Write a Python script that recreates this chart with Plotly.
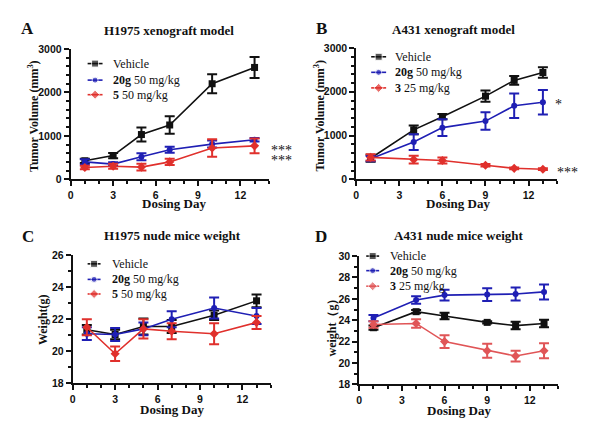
import plotly.graph_objects as go

# ---------------- data ----------------
days_A = [1, 3, 5, 7, 10, 13]
A_vehicle = [425, 545, 1030, 1250, 2200, 2575]
A_vehicle_err = [50, 60, 160, 200, 220, 240]
A_20g = [400, 350, 520, 680, 810, 910]
A_20g_err = [60, 40, 80, 70, 80, 40]
A_5 = [270, 300, 280, 400, 720, 770]
A_5_err = [40, 60, 80, 70, 200, 170]

days_B = [1, 4, 6, 9, 11, 13]
B_vehicle = [480, 1130, 1430, 1900, 2260, 2440]
B_vehicle_err = [80, 100, 60, 130, 100, 120]
B_20g = [470, 850, 1180, 1330, 1680, 1760]
B_20g_err = [60, 180, 190, 200, 280, 280]
B_3 = [500, 450, 430, 320, 250, 230]
B_3_err = [70, 90, 70, 30, 20, 20]

days_C = [1, 3, 5, 7, 10, 13]
C_vehicle = [21.35, 21.05, 21.55, 21.55, 22.25, 23.15]
C_vehicle_err = [0.3, 0.3, 0.5, 0.4, 0.3, 0.4]
C_20g = [21.1, 21.05, 21.4, 22.0, 22.7, 22.2]
C_20g_err = [0.4, 0.4, 0.4, 0.5, 0.65, 0.5]
C_5 = [21.5, 19.85, 21.4, 21.25, 21.1, 21.8]
C_5_err = [0.5, 0.45, 0.6, 0.5, 0.65, 0.4]

days_D = [1, 4, 6, 9, 11, 13]
D_vehicle = [23.3, 24.8, 24.4, 23.8, 23.5, 23.7]
D_vehicle_err = [0.2, 0.15, 0.3, 0.1, 0.35, 0.35]
D_20g = [24.2, 25.9, 26.35, 26.4, 26.45, 26.65]
D_20g_err = [0.3, 0.35, 0.5, 0.6, 0.6, 0.7]
D_3 = [23.6, 23.7, 22.0, 21.15, 20.65, 21.15]
D_3_err = [0.3, 0.4, 0.6, 0.65, 0.5, 0.7]

titles = ["H1975 xenograft model", "A431 xenograft model",
          "H1975 nude mice weight", "A431 nude mice weight"]
panel_letters = ["A", "B", "C", "D"]
y_titles = ["Tumor Volume (mm<sup>3</sup>)", "Tumor Volume (mm<sup>3</sup>)",
            "Weight(g)", "weight（g）"]
x_title = "Dosing Day"
x_ticks = [0, 3, 6, 9, 12]
significance = [["***", "***"], ["*", "***"], [], []]

# ---------------- style ----------------
BLACK = "#111111"
BLUE = "#1f1fb4"
RED = "#e0302c"
LRED = "#e05557"
SERIF = "Liberation Serif, Times New Roman, serif"
SANS = "Liberation Sans, Arial, sans-serif"
W, H = 600, 431
OFF = 8  # page body margin in the browser

def px_x(p):
    return (p - OFF) / W

def px_y(p):
    return 1 - (p - OFF) / H

fig = go.Figure()

# axis pixel boxes on screen: (left, right, top, bottom)
boxes = [(68, 267, 44, 178), (355, 557, 43, 178), (70, 269, 256, 388), (358, 558, 257, 389)]
yranges = [[0, 3000], [0, 3000], [18, 26], [18, 30]]
ydticks = [1000, 1000, 2, 2]
yminor = [200, 200, 1, 1]

panels = [
    (days_A, [("Vehicle", A_vehicle, A_vehicle_err, BLACK, "square"),
              ("<b>20g</b> 50 mg/kg", A_20g, A_20g_err, BLUE, "circle"),
              ("<b>5</b> 50 mg/kg", A_5, A_5_err, RED, "diamond")]),
    (days_B, [("Vehicle", B_vehicle, B_vehicle_err, BLACK, "square"),
              ("<b>20g</b> 50 mg/kg", B_20g, B_20g_err, BLUE, "circle"),
              ("<b>3</b> 25 mg/kg", B_3, B_3_err, RED, "diamond")]),
    (days_C, [("Vehicle", C_vehicle, C_vehicle_err, BLACK, "square"),
              ("<b>20g</b> 50 mg/kg", C_20g, C_20g_err, BLUE, "circle"),
              ("<b>5</b> 50 mg/kg", C_5, C_5_err, RED, "diamond")]),
    (days_D, [("Vehicle", D_vehicle, D_vehicle_err, BLACK, "square"),
              ("<b>20g</b> 50 mg/kg", D_20g, D_20g_err, BLUE, "circle"),
              ("<b>3</b> 25 mg/kg", D_3, D_3_err, LRED, "diamond")]),
]

# layout positions (screen pixels)
legend_swatch = [(85, 100, 108), (370, 385, 392), (85, 98, 107), (365, 378, 387)]
legend_rows = [(59, 76, 91), (52, 68, 84), (265, 281, 296), (257, 272, 288)]
title_pos = [(167, 25), (453, 24), (170, 236), (458, 236)]
letter_pos = [(25, 23), (320, 23), (25, 237), (320, 237)]
ytitle_pos = [(30, 113), (318, 112), (40, 322), (331, 327)]
xtitle_pos = [(172, 203), (457, 203), (170, 415), (458, 416)]
sig_pos = [[(280, 148), (280, 159)], [(558, 101), (567, 171)], [], []]

layout = dict(width=W, height=H, margin=dict(l=0, r=0, t=0, b=0),
              paper_bgcolor="white", plot_bgcolor="rgba(0,0,0,0)", showlegend=False)

annotations = []

def ov_text(text, x, y, size, xanchor="center", angle=0, family=SERIF):
    annotations.append(dict(text=text, xref="x5", yref="y5", x=x, y=y, showarrow=False,
                            xanchor=xanchor, yanchor="middle", textangle=angle,
                            font=dict(family=family, size=size, color=BLACK)))

for i, (days, series) in enumerate(panels):
    k = "" if i == 0 else str(i + 1)
    xa, ya = "x" + k, "y" + k
    for name, vals, err, col, sym in series:
        fig.add_trace(go.Scatter(
            x=days, y=vals, name=name, mode="lines+markers",
            xaxis=xa, yaxis=ya,
            line=dict(color=col, width=1.6),
            marker=dict(symbol=sym, size=7 if sym != "circle" else 6, color=col),
            error_y=dict(type="data", array=err, visible=True, color=col,
                         thickness=2, width=5),
            cliponaxis=False,
        ))
    l, r, t, b = boxes[i]
    layout["xaxis" + k] = dict(
        domain=[px_x(l), px_x(r)], anchor=ya, range=[0, 14],
        tickmode="array", tickvals=x_ticks,
        showline=True, linecolor=BLACK, linewidth=2,
        ticks="outside", ticklen=5, tickwidth=2, tickcolor=BLACK,
        minor=dict(ticks="outside", dtick=1, tick0=0, ticklen=3, tickwidth=1.5, tickcolor=BLACK),
        showgrid=False, zeroline=False,
        tickfont=dict(family=SANS, size=10.5, color=BLACK, weight="bold"),
    )
    layout["yaxis" + k] = dict(
        domain=[px_y(b), px_y(t)], anchor=xa, range=yranges[i],
        dtick=ydticks[i], tick0=yranges[i][0],
        showline=True, linecolor=BLACK, linewidth=2,
        ticks="outside", ticklen=5, tickwidth=2, tickcolor=BLACK,
        minor=dict(ticks="outside", dtick=yminor[i], ticklen=3, tickwidth=1.5, tickcolor=BLACK),
        showgrid=False, zeroline=False,
        tickfont=dict(family=SANS, size=10.5, color=BLACK, weight="bold"),
    )

    # legend (drawn manually for tight row spacing)
    x1, x2, xt = legend_swatch[i]
    for (name, vals, err, col, sym), ry in zip(series, legend_rows[i]):
        fig.add_trace(go.Scatter(
            x=[x1, (x1 + x2) / 2, x2], y=[ry, ry, ry], mode="lines+markers",
            xaxis="x5", yaxis="y5", hoverinfo="skip",
            line=dict(color=col, width=1.6),
            marker=dict(symbol=sym, size=[0, 7 if sym != "circle" else 6, 0], color=col),
        ))
        ov_text(name, xt, ry, 12, xanchor="left")

    # texts
    tx, ty = title_pos[i]
    ov_text("<b>" + titles[i] + "</b>", tx, ty, 13)
    lx, ly = letter_pos[i]
    ov_text("<b>" + panel_letters[i] + "</b>", lx, ly, 17)
    yx, yy = ytitle_pos[i]
    ov_text("<b>" + y_titles[i] + "</b>", yx, yy, 12, angle=-90)
    xx, xy = xtitle_pos[i]
    ov_text("<b>" + x_title + "</b>", xx, xy, 13)
    for s, (sx, sy) in zip(significance[i], sig_pos[i]):
        ov_text(s, sx, sy, 14)

# overlay axes in screen-pixel coordinates (for legends and labels)
layout["xaxis5"] = dict(domain=[0, 1], range=[OFF, OFF + W], visible=False,
                        fixedrange=True, anchor="y5")
layout["yaxis5"] = dict(domain=[0, 1], range=[OFF + H, OFF], visible=False,
                        fixedrange=True, anchor="x5")

layout["annotations"] = annotations
fig.update_layout(**layout)
fig.write_html("out.html")
